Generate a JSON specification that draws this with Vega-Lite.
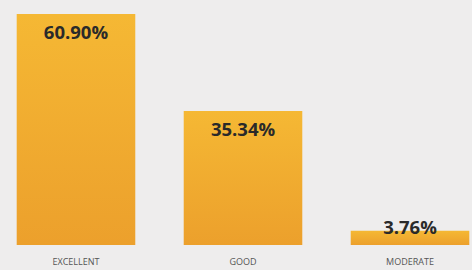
{
  "$schema": "https://vega.github.io/schema/vega-lite/v6.json",
  "width": 486,
  "height": 245,
  "autosize": "none",
  "padding": {"left": 0, "top": 0, "right": 0, "bottom": 25},
  "background": "#eeeded",
  "config": {"view": {"stroke": null}},
  "data": {"values": [
    {"category": "EXCELLENT", "value": 60.90, "label": "60.90%"},
    {"category": "GOOD", "value": 35.34, "label": "35.34%"},
    {"category": "MODERATE", "value": 3.76, "label": "3.76%"}
  ]},
  "encoding": {
    "x": {"field": "category", "type": "nominal", "sort": null,
      "scale": {"paddingInner": 0.29, "paddingOuter": 0.1},
      "axis": {"title": null, "domain": false, "ticks": false, "labelAngle": 0,
        "labelFont": "Open Sans", "labelFontSize": 9, "labelColor": "#555555", "labelPadding": 12}},
    "y": {"field": "value", "type": "quantitative", "scale": {"domain": [0, 64.6], "nice": false}, "axis": null}
  },
  "layer": [
    {"mark": {"type": "bar", "color": {"gradient": "linear", "x1": 0, "y1": 0, "x2": 0, "y2": 1,
      "stops": [{"offset": 0, "color": "#f5b834"}, {"offset": 1, "color": "#eca02c"}]}}},
    {"transform": [{"filter": "datum.value > 10"}],
     "mark": {"type": "text", "font": "Open Sans", "fontWeight": "bold", "fontSize": 18.5, "color": "#2a2a2a", "baseline": "middle", "dy": 19},
     "encoding": {"text": {"field": "label"}}},
    {"transform": [{"filter": "datum.value <= 10"}],
     "mark": {"type": "text", "font": "Open Sans", "fontWeight": "bold", "fontSize": 18.5, "color": "#2a2a2a", "baseline": "middle", "dy": -3},
     "encoding": {"text": {"field": "label"}}}
  ]
}
